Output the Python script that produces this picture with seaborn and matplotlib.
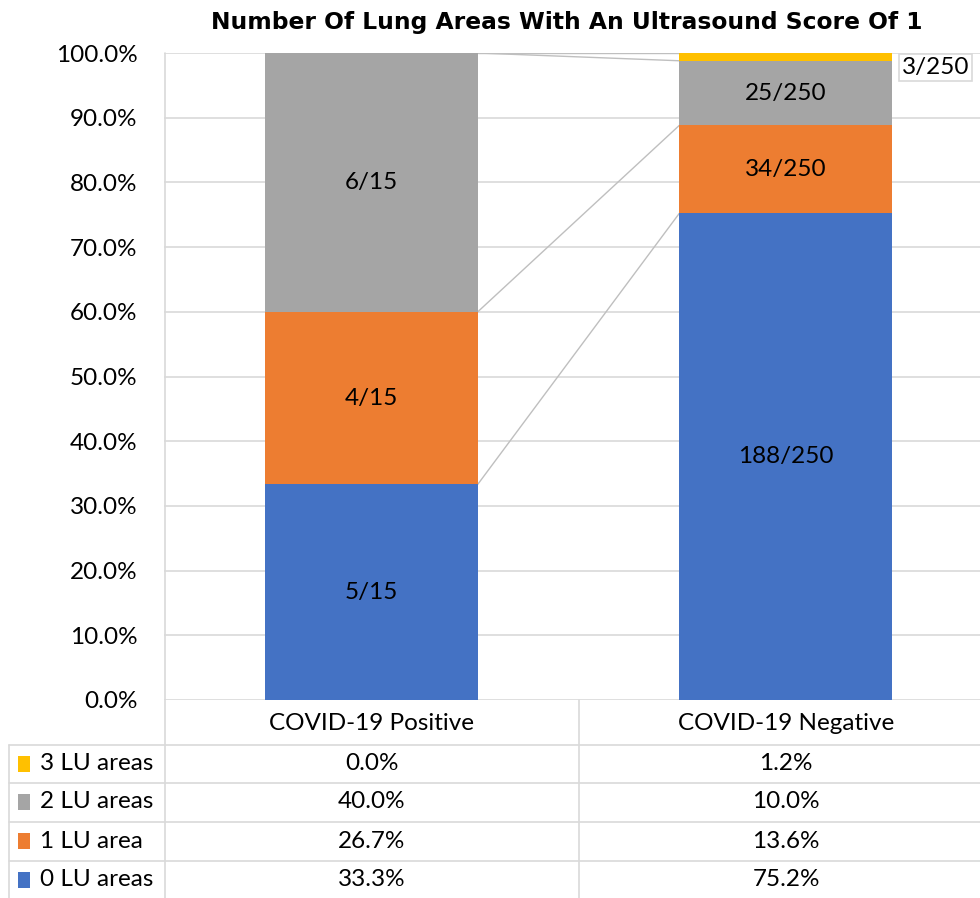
import numpy as np
import pandas as pd
import matplotlib
matplotlib.use("Agg")
import matplotlib.pyplot as plt
import seaborn as sns
from matplotlib.patches import Rectangle
from matplotlib.lines import Line2D

# ---------------- data ----------------
categories = ["COVID-19 Positive", "COVID-19 Negative"]
series_names = ["0 LU areas", "1 LU area", "2 LU areas", "3 LU areas"]
counts_0lu = [5, 188]
counts_1lu = [4, 34]
counts_2lu = [6, 25]
counts_3lu = [0, 3]
totals = [15, 250]
yticks = [0, 10, 20, 30, 40, 50, 60, 70, 80, 90, 100]
title = "Number Of Lung Areas With An Ultrasound Score Of 1"

colors = ["#4472C4", "#ED7D31", "#A5A5A5", "#FFC000"]
grid_c = "#D9D9D9"

# ---------------- style ----------------
sns.set_style("white")
plt.rcParams["font.family"] = ["Lato", "DejaVu Sans"]
plt.rcParams["text.color"] = "black"
plt.rcParams["xtick.color"] = "black"
plt.rcParams["ytick.color"] = "black"

W, H = 980, 898
fig = plt.figure(figsize=(W / 100, H / 100), dpi=100)

def fx(px):
    return px / W

def fy(py):
    return 1 - py / H

ax_left, ax_right, ax_top, ax_bot = 164, 993, 53, 700
ax = fig.add_axes([fx(ax_left), fy(ax_bot), fx(ax_right - ax_left), (ax_bot - ax_top) / H])

counts = [counts_0lu, counts_1lu, counts_2lu, counts_3lu]
pcts = [[100.0 * c / t for c, t in zip(cs, totals)] for cs in counts]
cum = np.cumsum(np.array(pcts), axis=0)

bar_w = 0.514
# draw cumulative bars from top layer down so they overlay into a stack
for i in range(len(series_names) - 1, -1, -1):
    df = pd.DataFrame({"cat": categories, "val": cum[i]})
    sns.barplot(data=df, x="cat", y="val", order=categories, color=colors[i],
                saturation=1, width=bar_w, errorbar=None, ax=ax, zorder=3,
                linewidth=0)

FS = 17.5
ax.set_xlim(-0.5, 1.5)
ax.set_ylim(0, 100)
ax.set_yticks(yticks)
ax.set_yticklabels([f"{v:.1f}%" for v in yticks], fontsize=FS)
ax.tick_params(axis="y", length=0, pad=19)
ax.tick_params(axis="x", length=0, pad=9, labelsize=FS)
ax.set_xlabel("")
ax.set_ylabel("")
for s in ax.spines.values():
    s.set_visible(False)
ax.yaxis.grid(True, color=grid_c, lw=1.2, zorder=0)
ax.set_axisbelow(True)

# series connector lines
for i in range(len(series_names)):
    ax.plot([0 + bar_w / 2, 1 - bar_w / 2], [cum[i][0], cum[i][1]],
            color="#BFBFBF", lw=1.0, zorder=2)

# data labels
for i in range(len(series_names)):
    for j in range(len(categories)):
        c = counts[i][j]
        if c == 0:
            continue
        lab = f"{c}/{totals[j]}"
        mid = cum[i][j] - pcts[i][j] / 2
        if pcts[i][j] < 3:
            ax.text(1.362, 97.8, lab, ha="center", va="center", fontsize=FS,
                    zorder=5,
                    bbox=dict(boxstyle="square,pad=0.12", fc="white", ec=grid_c, lw=1.2))
        else:
            ax.text(j, mid, lab, ha="center", va="center", fontsize=FS, zorder=5)

# title
fig.text(fx(567), fy(22), title, ha="center", va="center", fontsize=16.8,
         fontweight="bold", family=["DejaVu Sans"])

# ---------------- data table ----------------
row_lines = [745, 783, 822, 861]
row_centers = [764, 802, 841, 880]
col_centers = [371.5, 786]
lc = grid_c
lines = []
for y in row_lines:
    lines.append(Line2D([fx(9), fx(980)], [fy(y), fy(y)], color=lc, lw=1.2))
lines.append(Line2D([fx(9), fx(9)], [fy(745), fy(898)], color=lc, lw=1.2))
lines.append(Line2D([fx(165), fx(165)], [fy(53), fy(898)], color=lc, lw=1.2))
lines.append(Line2D([fx(579), fx(579)], [fy(700), fy(898)], color=lc, lw=1.2))
for ln in lines:
    fig.add_artist(ln)

table_order = [3, 2, 1, 0]
for r, si in enumerate(table_order):
    yc = row_centers[r]
    fig.add_artist(Rectangle((fx(18), fy(yc + 8)), fx(12), 16 / H,
                             color=colors[si], lw=0))
    fig.text(fx(40), fy(yc), series_names[si], ha="left", va="center", fontsize=FS)
    for j in range(len(categories)):
        fig.text(fx(col_centers[j]), fy(yc), f"{pcts[si][j]:.1f}%",
                 ha="center", va="center", fontsize=FS)

fig.savefig("out.png", dpi=100)
